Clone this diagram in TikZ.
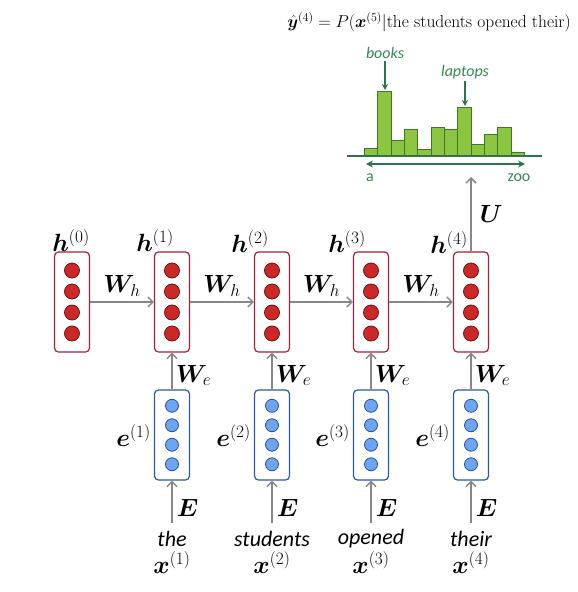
\documentclass[tikz,border=0pt]{standalone}
\usepackage{amsmath}
\usepackage{bm}
\usepackage{fontspec}
\setsansfont{Carlito}
\usetikzlibrary{arrows.meta}
\definecolor{boxred}{RGB}{170,30,60}
\definecolor{dotred}{RGB}{205,40,40}
\definecolor{dotredline}{RGB}{110,20,20}
\definecolor{boxblue}{RGB}{40,90,160}
\definecolor{dotblue}{RGB}{110,165,240}
\definecolor{dotblueline}{RGB}{40,80,150}
\definecolor{arrgray}{RGB}{135,135,135}
\definecolor{barfill}{RGB}{140,198,65}
\definecolor{barline}{RGB}{60,120,40}
\definecolor{axgreen}{RGB}{45,115,75}
\definecolor{txtgreen}{RGB}{55,135,85}
\begin{document}
\begin{tikzpicture}[x=1pt,y=-1pt,
 hbox/.style={draw=boxred, line width=1.2pt, rounded corners=4pt, minimum width=35pt, minimum height=100pt, inner sep=0pt},
 ebox/.style={draw=boxblue, line width=1.2pt, rounded corners=4pt, minimum width=35pt, minimum height=90pt, inner sep=0pt},
 hdot/.style={circle, draw=dotredline, fill=dotred, line width=0.8pt, minimum size=15pt, inner sep=0pt},
 edot/.style={circle, draw=dotblueline, fill=dotblue, line width=0.8pt, minimum size=13pt, inner sep=0pt},
 conn/.style={draw=arrgray, line width=1.5pt, -{Straight Barb[length=5pt,width=10pt]}},
 lab/.style={font=\fontsize{23}{27}\selectfont, inner sep=0pt},
 word/.style={font=\sffamily\itshape\fontsize{22}{26}\selectfont, inner sep=0pt},
 gtxt/.style={font=\sffamily\fontsize{16}{19}\selectfont, text=txtgreen, inner sep=0pt},
 gitxt/.style={font=\sffamily\itshape\fontsize{16}{19}\selectfont, text=txtgreen, inner sep=0pt},
 garrow/.style={draw=axgreen, line width=1.2pt, -{Stealth[length=6pt,width=6pt]}},
 ]
\useasboundingbox (0,0) rectangle (578,592);

% title
\node[font=\fontsize{17.4}{20}\selectfont, inner sep=0pt] (title) at (429,22)
  {$\bm{\hat{y}}^{(4)} = P(\bm{x}^{(5)}|\text{the students opened their})$};

% histogram
\foreach \t [count=\n from 0] in {148,91,140,129,149,127,129,107,144,134,127,152}
  \draw[barline, fill=barfill, line width=0.8pt] ({364.3+13.35*\n},156) rectangle ({364.3+13.35*(\n+1)},\t);
\draw[axgreen, line width=1.5pt] (347,156) -- (542,156);
\coordinate (axl) at (366,164);
\coordinate (axr) at (525,164);
\draw[axgreen, line width=1.5pt, {Stealth[length=7pt,width=7pt]}-{Stealth[length=7pt,width=7pt]}] (axl) -- (axr);
\node[gtxt] (la) at (370,178) {a};
\node[gtxt] (lz) at (519,178) {zoo};
\node[gitxt] (bk) at (385,53) {books};
\coordinate (bkt) at (385,90);
\draw[garrow] (bk.south) ++(0,2) -- (bkt);
\node[gitxt] (lp) at (465,72) {laptops};
\coordinate (lpt) at (465,106);
\draw[garrow] (lp.south) ++(0,2) -- (lpt);

% hidden states
\foreach \i/\x in {0/72,1/172,2/272,3/371,4/471} {
  \node[hbox] (h\i) at (\x,302) {};
  \foreach \k/\dy in {1/-31.5,2/-10.5,3/10.5,4/31.5}
    \node[hdot] (h\i d\k) at (\x,302+\dy) {};
}
% embeddings and words
\foreach \i/\x/\w in {1/172/the,2/272/students,3/371/opened,4/471/their} {
  \node[ebox] (e\i) at (\x,435) {};
  \foreach \k/\dy in {1/-29.25,2/-9.75,3/9.75,4/29.25}
    \node[edot] (e\i d\k) at (\x,435+\dy) {};
  \node[word] (w\i) at (\x,539) {\w};
  \node[lab] (x\i) at (\x,563) {$\bm{x}^{(\i)}$};
  \coordinate (wb\i) at (\x,523);
  \draw[conn] (wb\i) -- (e\i.south) node[pos=0.35, right=4pt, lab] (E\i) {$\bm{E}$};
  \draw[conn] (e\i.north) -- (h\i.south) node[pos=0.38, right=3pt, lab] (We\i) {$\bm{W}_e$};
  \node[lab, anchor=east] (el\i) at ([xshift=-3pt,yshift=-1pt]e\i.west) {$\bm{e}^{(\i)}$};
}

% recurrent arrows
\foreach \a/\b in {0/1,1/2,2/3,3/4}
  \draw[conn] (h\a) -- (h\b) node[midway, above=5pt, lab] (Wh\a) {$\bm{W}_h$};

% h labels
\node[lab] (hl0) at (71,241) {$\bm{h}^{(0)}$};
\node[lab] (hl1) at (155,241) {$\bm{h}^{(1)}$};
\node[lab] (hl2) at (250,242) {$\bm{h}^{(2)}$};
\node[lab] (hl3) at (347,242) {$\bm{h}^{(3)}$};
\node[lab] (hl4) at (449,243) {$\bm{h}^{(4)}$};

% output arrow
\coordinate (out) at (471,177);
\draw[conn] (h4.north) -- (out) node[midway, right=8pt, lab] (U) {$\bm{U}$};
\end{tikzpicture}
\end{document}
